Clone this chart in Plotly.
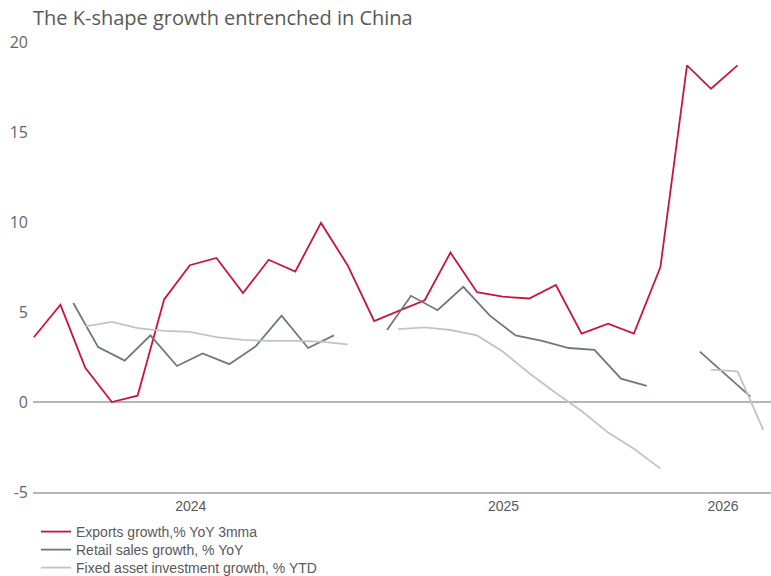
import pandas as pd
import plotly.graph_objects as go

# ---------------- data ----------------
title_text = "The K-shape growth entrenched in China"

series_names = [
    "Exports growth,% YoY 3mma",
    "Retail sales growth, % YoY",
    "Fixed asset investment growth, % YTD",
]

# Exports growth, % YoY 3mma (monthly, Dec 2023 - Mar 2026)
export_start = "2023-12"
export_values = [3.6, 5.4, 1.9, 0.0, 0.35, 5.7, 7.6, 8.0, 6.05, 7.9, 7.25, 9.95,
                 7.6, 4.5, 5.05, 5.65, 8.3, 6.1, 5.85, 5.75, 6.5, 3.8, 4.35, 3.8,
                 7.5, 18.7, 17.4, 18.7]

# Retail sales growth, % YoY (monthly, Feb 2024 - Apr 2026, no January print)
retail_start = "2024-02"
retail_values = [5.5, 3.05, 2.3, 3.7, 2.0, 2.7, 2.1, 3.1, 4.8, 3.0, 3.7,
                 None,
                 4.0, 5.9, 5.1, 6.4, 4.8, 3.7, 3.4, 3.0, 2.9, 1.3, 0.9,
                 None,
                 2.8, 1.6, 0.3]

# Fixed asset investment growth, % YTD (monthly, Feb 2024 - Apr 2026, no January print)
fai_start = "2024-02"
fai_values = [4.2, 4.45, 4.1, 3.95, 3.9, 3.6, 3.45, 3.4, 3.4, 3.35, 3.2,
              None,
              4.05, 4.15, 4.0, 3.7, 2.8, 1.6, 0.5, -0.5, -1.7, -2.6, -3.7,
              None,
              1.8, 1.7, -1.55]

x_tick_labels = ["2024", "2025", "2026"]
y_tick_values = [-5, 0, 5, 10, 15, 20]
y_tick_labels = ["-5", "0", "5", "10", "15", "20"]

# ---------------- dates ----------------
def month_end(start, n):
    return pd.period_range(start, periods=n, freq="M").to_timestamp(how="end").normalize()

def month_mid(start, n):
    return pd.period_range(start, periods=n, freq="M").to_timestamp(how="start") + pd.Timedelta(days=14)

export_dates = month_end(export_start, len(export_values))
retail_dates = month_mid(retail_start, len(retail_values))
fai_dates = month_end(fai_start, len(fai_values))

# ---------------- style ----------------
RED = "#c6163f"
SLATE = "#6c7880"
LIGHT = "#c3c3c3"
AXIS = "#b3b7bb"
TXT = "#595959"
SANS = "Liberation Sans Narrow, Arial Narrow, Liberation Sans, Arial"

fig = go.Figure()
fig.add_trace(go.Scatter(x=export_dates, y=export_values, mode="lines",
                         name=series_names[0], line=dict(color=RED, width=1.8),
                         connectgaps=False, legend="legend"))
fig.add_trace(go.Scatter(x=retail_dates, y=retail_values, mode="lines",
                         name=series_names[1], line=dict(color=SLATE, width=1.8),
                         connectgaps=False, legend="legend2"))
fig.add_trace(go.Scatter(x=fai_dates, y=fai_values, mode="lines",
                         name=series_names[2], line=dict(color=LIGHT, width=1.8),
                         connectgaps=False, legend="legend3"))

tick_dates = ["2024-07-01", "2025-07-01", "2026-03-14"]


def legend_box(y_px):
    return dict(orientation="v", x=36 / 771, xref="container", xanchor="left",
                y=1 - y_px / 576, yref="container", yanchor="middle",
                font=dict(family=SANS, size=14, color=TXT),
                bgcolor="rgba(0,0,0,0)", borderwidth=0)


fig.update_layout(
    width=771, height=576,
    margin=dict(l=33, r=0, t=42, b=84, pad=0, autoexpand=False),
    paper_bgcolor="white", plot_bgcolor="white",
    title=dict(text=title_text, x=33 / 771, xref="container", xanchor="left",
               y=1 - 18 / 576, yref="container", yanchor="middle",
               font=dict(family="Open Sans", size=20, color=TXT)),
    showlegend=True,
    legend=legend_box(532),
    legend2=legend_box(550),
    legend3=legend_box(568),
    xaxis=dict(type="date", range=["2023-12-30", "2026-05-09"],
               tickvals=tick_dates, ticktext=x_tick_labels,
               showgrid=False, zeroline=False, ticks="",
               showline=True, linecolor=AXIS, linewidth=1.5,
               tickfont=dict(family=SANS, size=14, color=TXT)),
    yaxis=dict(range=[-5, 20], tickvals=y_tick_values, ticktext=y_tick_labels,
               showgrid=False, zeroline=True, zerolinecolor=AXIS, zerolinewidth=2,
               showline=False, ticks="", ticklabelstandoff=4,
               tickfont=dict(family="Open Sans", size=16, color="#666666")),
)

fig.write_html("out.html", config={"displayModeBar": False},
               post_script="document.body.style.margin='0px';")
